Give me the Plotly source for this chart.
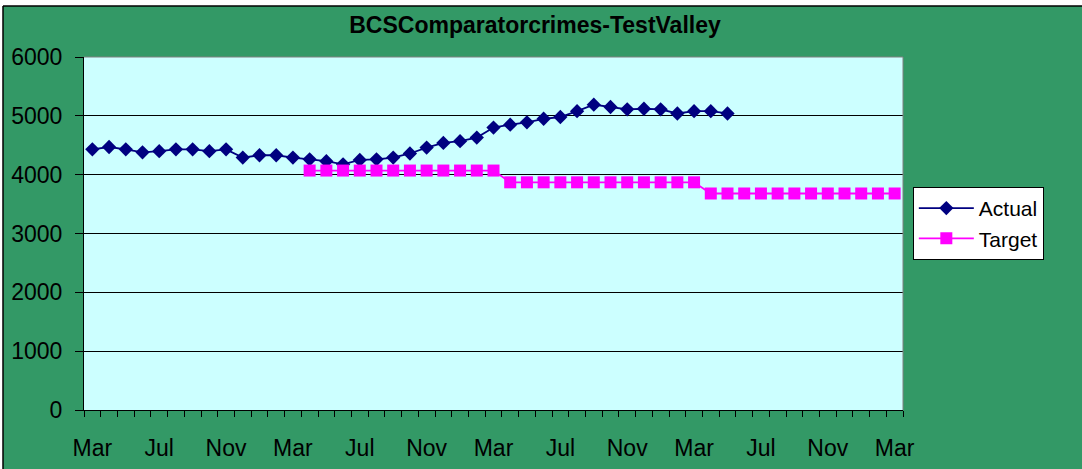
import plotly.graph_objects as go

GREEN_BG = "#339966"
PLOT_BG = "#CCFFFF"
NAVY = "#000080"
MAGENTA = "#FF00FF"
FONT = "Liberation Sans, Arial, sans-serif"

# 49 monthly categories, Mar (year 1) .. Mar (year 5)
n_months = 49
tick_pos = list(range(0, n_months, 4))
tick_text = ["Mar", "Jul", "Nov"] * 4 + ["Mar"]

actual = [
    4430, 4470, 4430, 4380, 4400, 4430, 4430, 4400, 4430, 4290,
    4330, 4330, 4290, 4260, 4230, 4175, 4250, 4260, 4290, 4360,
    4460, 4540, 4570, 4630, 4800, 4850, 4890, 4950, 4980, 5080,
    5190, 5150, 5110, 5120, 5110, 5040, 5080, 5080, 5040,
]

target_start = 13
target = [4070] * 12 + [3870] * 12 + [3680] * 12

months = list(range(n_months))

# plot area in pixels: x 84..903, y 57..410
PW, PH = 819, 353

fig = go.Figure()

fig.add_trace(go.Scatter(
    x=months[:len(actual)], y=actual,
    name="Actual", mode="lines+markers",
    line=dict(color=NAVY, width=1.8),
    marker=dict(symbol="diamond", size=11, color=NAVY),
))

fig.add_trace(go.Scatter(
    x=months[target_start:target_start + len(target)], y=target,
    name="Target", mode="lines+markers",
    line=dict(color=MAGENTA, width=1.8),
    marker=dict(symbol="square", size=12, color=MAGENTA),
))

fig.update_layout(
    width=1082, height=469,
    paper_bgcolor=GREEN_BG,
    plot_bgcolor=PLOT_BG,
    font=dict(family=FONT, color="black", size=23),
    margin=dict(l=84, r=179, t=57, b=59, autoexpand=False),
    title=dict(
        text="<b>BCSComparatorcrimes-TestValley</b>",
        x=(535 - 84) / PW, xref="paper", xanchor="center",
        y=1 - 25 / 469, yanchor="middle",
        font=dict(size=23, family=FONT, color="black"),
    ),
    showlegend=True,
    legend=dict(
        x=1.012, y=0.632, xanchor="left", yanchor="top",
        bgcolor="white", bordercolor="black", borderwidth=1,
        font=dict(size=21, family=FONT, color="black"),
        itemwidth=55, tracegroupgap=4,
    ),
    xaxis=dict(
        range=[-0.5, n_months - 0.5],
        tickmode="array", tickvals=tick_pos, ticktext=tick_text,
        ticks="", showgrid=False, zeroline=False,
        showline=True, linecolor="black", linewidth=1,
        ticklabelstandoff=17, automargin=False,
        tickfont=dict(size=23),
        minor=dict(tickmode="linear", tick0=-0.5, dtick=1,
                   ticks="outside", ticklen=6, tickcolor="black",
                   showgrid=False),
    ),
    yaxis=dict(
        range=[0, 6000], dtick=1000,
        ticks="outside", ticklen=8, tickcolor="black",
        showgrid=True, gridcolor="black", gridwidth=1,
        zeroline=False,
        showline=True, linecolor="black", linewidth=1,
        ticklabelstandoff=8, automargin=False,
        tickfont=dict(size=23),
    ),
    shapes=[
        # gray plot-area border on top and right
        dict(type="line", xref="paper", yref="paper", x0=0, x1=1, y0=1, y1=1,
             line=dict(color="#808080", width=1)),
        dict(type="line", xref="paper", yref="paper", x0=1, x1=1, y0=0, y1=1,
             line=dict(color="#808080", width=1)),
        # white strip + black frame at top-left of the chart area
        dict(type="rect", xref="paper", yref="paper",
             x0=-84 / PW, x1=1100 / PW, y0=(410 - 6) / PH, y1=420 / PH,
             fillcolor="white", line=dict(width=0)),
        dict(type="rect", xref="paper", yref="paper",
             x0=-84 / PW, x1=-81 / PW, y0=-80 / PH, y1=420 / PH,
             fillcolor="white", line=dict(width=0)),
        dict(type="line", xref="paper", yref="paper",
             x0=-81 / PW, x1=1100 / PW, y0=(410 - 6) / PH, y1=(410 - 6) / PH,
             line=dict(color="black", width=1.5)),
        dict(type="line", xref="paper", yref="paper",
             x0=-81 / PW, x1=-81 / PW, y0=-80 / PH, y1=(410 - 6) / PH,
             line=dict(color="black", width=1.5)),
    ],
)

fig.write_html(
    "out.html",
    config={"displayModeBar": False},
    post_script="document.body.style.margin='0px';",
)
